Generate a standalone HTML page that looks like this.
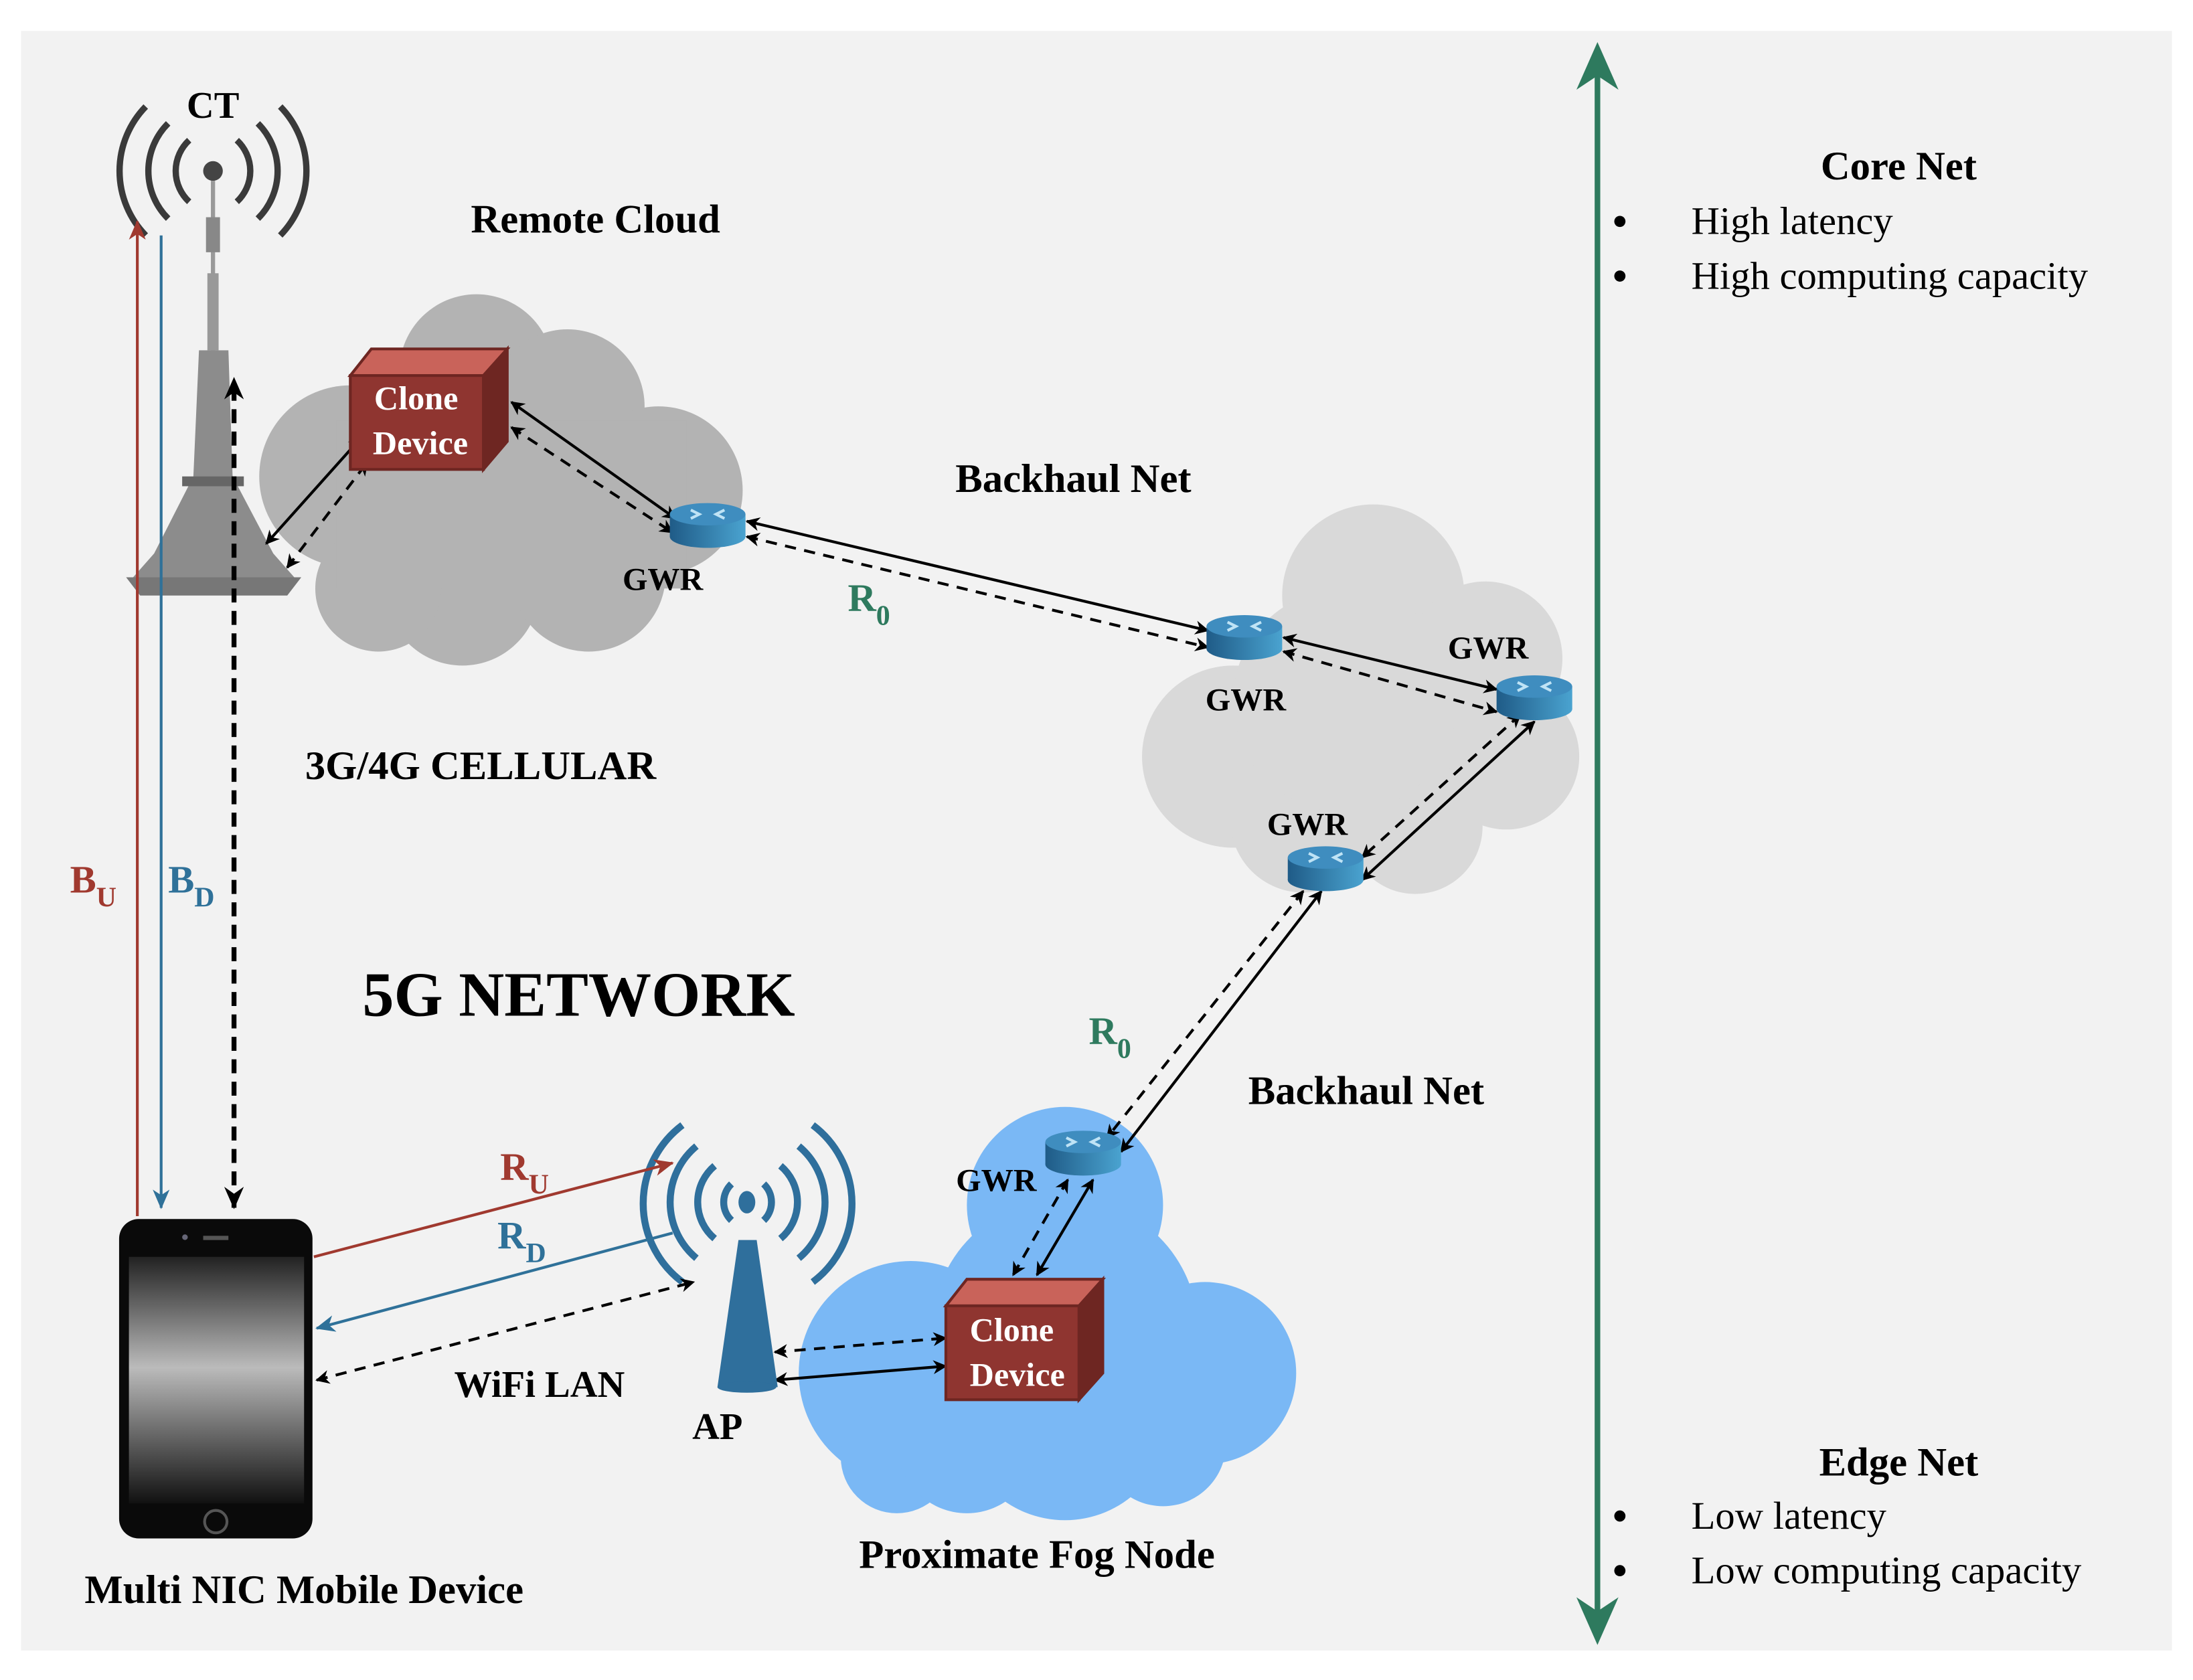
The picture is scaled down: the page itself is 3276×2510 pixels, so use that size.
<!DOCTYPE html>
<html><head><meta charset="utf-8"><style>
html,body{margin:0;padding:0;background:#fff;}
svg{display:block;font-family:"Liberation Serif","Times New Roman",serif;}
text{font-family:"Liberation Serif","Times New Roman",serif;}
</style></head><body>
<svg width="3276" height="2510" viewBox="0 0 1565 1199" xmlns="http://www.w3.org/2000/svg" font-family="Liberation Serif, serif">
<defs>
<marker id="ab" markerWidth="10" markerHeight="10" refX="9" refY="5" orient="auto-start-reverse" markerUnits="userSpaceOnUse"><path d="M0,0 L10,5 L0,10 L3,5 z" fill="#000"/></marker>
<marker id="ar" markerWidth="14" markerHeight="12" refX="13" refY="6" orient="auto" markerUnits="userSpaceOnUse"><path d="M0,0 L14,6 L0,12 L4,6 z" fill="#a0392f"/></marker>
<marker id="abl" markerWidth="14" markerHeight="12" refX="13" refY="6" orient="auto" markerUnits="userSpaceOnUse"><path d="M0,0 L14,6 L0,12 L4,6 z" fill="#2f7199"/></marker>
<marker id="abk" markerWidth="16" markerHeight="14" refX="15" refY="7" orient="auto-start-reverse" markerUnits="userSpaceOnUse"><path d="M0,0 L16,7 L0,14 L5,7 z" fill="#000"/></marker>
<linearGradient id="scr" x1="0" y1="0" x2="0" y2="1"><stop offset="0" stop-color="#222"/><stop offset="0.45" stop-color="#bbb"/><stop offset="1" stop-color="#111"/></linearGradient>
<linearGradient id="rt" x1="0" y1="0" x2="1" y2="0"><stop offset="0" stop-color="#1f5b87"/><stop offset="1" stop-color="#4aa3d0"/></linearGradient>
<g id="router"><rect x="-27" y="-8" width="54" height="16" fill="url(#rt)"/><ellipse cx="0" cy="8" rx="27" ry="8" fill="url(#rt)"/><ellipse cx="0" cy="-8" rx="27" ry="8" fill="#3f8dbf"/><path d="M-12,-11 l6,3 -6,3 M12,-11 l-6,3 6,3" stroke="#bfe3f5" stroke-width="2" fill="none"/></g>
</defs>
<rect x="0" y="0" width="1565" height="1199" fill="#fff"/>
<rect x="15" y="22" width="1535" height="1156" fill="#f2f2f2"/>

<!-- clouds -->
<g fill="#b3b3b3">
<circle cx="250" cy="340" r="65"/><circle cx="340" cy="265" r="55"/><circle cx="405" cy="290" r="55"/><circle cx="470" cy="350" r="60"/><circle cx="330" cy="420" r="55"/><circle cx="420" cy="410" r="55"/><circle cx="270" cy="420" r="45"/><rect x="240" y="300" width="250" height="120"/>
</g>
<g fill="#d9d9d9">
<circle cx="880" cy="540" r="65"/><circle cx="980" cy="425" r="65"/><circle cx="1060" cy="470" r="55"/><circle cx="1075" cy="540" r="52"/><circle cx="930" cy="585" r="52"/><circle cx="1010" cy="590" r="48"/><circle cx="960" cy="500" r="80"/>
</g>
<g fill="#7ab8f5">
<circle cx="760" cy="860" r="70"/><circle cx="650" cy="980" r="80"/><circle cx="860" cy="980" r="65"/><circle cx="760" cy="1010" r="75"/><circle cx="640" cy="1040" r="40"/><circle cx="760" cy="950" r="95"/><circle cx="690" cy="1030" r="50"/><circle cx="830" cy="1030" r="45"/>
</g>

<!-- green axis -->
<line x1="1140" y1="40" x2="1140" y2="1165" stroke="#2e7a5e" stroke-width="4"/>
<path d="M1125,64 L1140,30 L1155,64 L1140,54z" fill="#2e7a5e"/>
<path d="M1125,1140 L1140,1174 L1155,1140 L1140,1150z" fill="#2e7a5e"/>

<g font-size="28" fill="#000">
<text x="1355" y="128" text-anchor="middle" font-weight="bold" font-size="29">Core Net</text>
<circle cx="1156" cy="158" r="4"/><text x="1207" y="167">High latency</text>
<circle cx="1156" cy="197" r="4"/><text x="1207" y="206">High computing capacity</text>
<text x="1355" y="1053" text-anchor="middle" font-weight="bold" font-size="29">Edge Net</text>
<circle cx="1156" cy="1082" r="4"/><text x="1207" y="1091">Low latency</text>
<circle cx="1156" cy="1121" r="4"/><text x="1207" y="1130">Low computing capacity</text>
</g>

<!-- tower -->
<g fill="none" stroke="#3a3a3a" stroke-width="4.5">
<path d="M135,100 A30,30 0 0 0 135,144"/><path d="M169,100 A30,30 0 0 1 169,144"/>
<path d="M120,88 A48,48 0 0 0 120,156"/><path d="M184,88 A48,48 0 0 1 184,156"/>
<path d="M104,76 A66,66 0 0 0 104,168"/><path d="M200,76 A66,66 0 0 1 200,168"/>
</g>
<circle cx="152" cy="122" r="7" fill="#444"/>
<line x1="152" y1="129" x2="152" y2="250" stroke="#999" stroke-width="3"/>
<rect x="147" y="155" width="10" height="25" fill="#888"/>
<rect x="148" y="195" width="8" height="55" fill="#999"/>
<path d="M142,250 L163,250 L166,340 L195,395 L210,412 L95,412 L110,395 L138,340 Z" fill="#8c8c8c"/>
<path d="M90,412 L215,412 L205,425 L100,425 Z" fill="#777"/>
<rect x="130" y="340" width="44" height="7" fill="#666"/>

<!-- links in remote cloud -->
<line x1="190" y1="388" x2="258" y2="312" stroke="#000" stroke-width="2" marker-end="url(#ab)" marker-start="url(#ab)"/>
<line x1="205" y1="405" x2="262" y2="330" stroke="#000" stroke-width="2" stroke-dasharray="8,6" marker-end="url(#ab)" marker-start="url(#ab)"/>
<line x1="365" y1="287" x2="482" y2="370" stroke="#000" stroke-width="2" marker-end="url(#ab)" marker-start="url(#ab)"/>
<line x1="365" y1="305" x2="480" y2="380" stroke="#000" stroke-width="2" stroke-dasharray="8,6" marker-end="url(#ab)" marker-start="url(#ab)"/>
<!-- backhaul 1 -->
<line x1="533" y1="372" x2="862" y2="450" stroke="#000" stroke-width="2" marker-end="url(#ab)" marker-start="url(#ab)"/>
<line x1="533" y1="383" x2="862" y2="462" stroke="#000" stroke-width="2" stroke-dasharray="8,6" marker-end="url(#ab)" marker-start="url(#ab)"/>
<line x1="916" y1="455" x2="1068" y2="492" stroke="#000" stroke-width="2" marker-end="url(#ab)" marker-start="url(#ab)"/>
<line x1="916" y1="465" x2="1068" y2="508" stroke="#000" stroke-width="2" stroke-dasharray="8,6" marker-end="url(#ab)" marker-start="url(#ab)"/>
<line x1="1095" y1="515" x2="972" y2="628" stroke="#000" stroke-width="2" marker-end="url(#ab)" marker-start="url(#ab)"/>
<line x1="1085" y1="510" x2="972" y2="612" stroke="#000" stroke-width="2" stroke-dasharray="8,6" marker-end="url(#ab)" marker-start="url(#ab)"/>
<!-- backhaul 2 -->
<line x1="930" y1="636" x2="790" y2="812" stroke="#000" stroke-width="2" stroke-dasharray="8,6" marker-end="url(#ab)" marker-start="url(#ab)"/>
<line x1="943" y1="636" x2="800" y2="822" stroke="#000" stroke-width="2" marker-end="url(#ab)" marker-start="url(#ab)"/>
<line x1="762" y1="842" x2="723" y2="910" stroke="#000" stroke-width="2" stroke-dasharray="8,6" marker-end="url(#ab)" marker-start="url(#ab)"/>
<line x1="780" y1="842" x2="740" y2="910" stroke="#000" stroke-width="2" marker-end="url(#ab)" marker-start="url(#ab)"/>
<line x1="553" y1="965" x2="675" y2="955" stroke="#000" stroke-width="2" stroke-dasharray="8,6" marker-end="url(#ab)" marker-start="url(#ab)"/>
<line x1="553" y1="985" x2="675" y2="975" stroke="#000" stroke-width="2" marker-end="url(#ab)" marker-start="url(#ab)"/>

<!-- routers -->
<use href="#router" x="505" y="375"/>
<use href="#router" x="888" y="455"/>
<use href="#router" x="1095" y="498"/>
<use href="#router" x="946" y="620"/>
<use href="#router" x="773" y="823"/>

<!-- clone devices -->
<g>
<path d="M250,268 L265,249 L362,249 L345,268Z" fill="#c9635a" stroke="#6e2622" stroke-width="2"/>
<path d="M345,268 L362,249 L362,315 L345,335Z" fill="#6e2622" stroke="#6e2622" stroke-width="2"/>
<rect x="250" y="268" width="95" height="67" fill="#8f3530" stroke="#6e2622" stroke-width="2"/>
<text x="297" y="292" text-anchor="middle" font-size="24" font-weight="bold" fill="#fff">Clone</text>
<text x="300" y="324" text-anchor="middle" font-size="24" font-weight="bold" fill="#fff">Device</text>
</g>
<g>
<path d="M675,932 L690,913 L787,913 L770,932Z" fill="#c9635a" stroke="#6e2622" stroke-width="2"/>
<path d="M770,932 L787,913 L787,980 L770,999Z" fill="#6e2622" stroke="#6e2622" stroke-width="2"/>
<rect x="675" y="932" width="95" height="67" fill="#8f3530" stroke="#6e2622" stroke-width="2"/>
<text x="722" y="957" text-anchor="middle" font-size="24" font-weight="bold" fill="#fff">Clone</text>
<text x="726" y="989" text-anchor="middle" font-size="24" font-weight="bold" fill="#fff">Device</text>
</g>

<!-- BU BD and dashed vertical -->
<line x1="98" y1="868" x2="98" y2="158" stroke="#a0392f" stroke-width="2" marker-end="url(#ar)"/>
<line x1="115" y1="168" x2="115" y2="862" stroke="#2f7199" stroke-width="2" marker-end="url(#abl)"/>
<line x1="167" y1="862" x2="167" y2="270" stroke="#000" stroke-width="3.5" stroke-dasharray="10,6" marker-end="url(#abk)" marker-start="url(#abk)"/>

<!-- phone -->
<rect x="85" y="870" width="138" height="228" rx="14" fill="#0a0a0a"/>
<rect x="92" y="897" width="125" height="176" fill="url(#scr)"/>
<circle cx="154" cy="1086" r="8" fill="none" stroke="#555" stroke-width="2"/>
<rect x="145" y="882" width="18" height="3" fill="#555"/><circle cx="132" cy="883" r="2" fill="#667"/>

<!-- AP -->
<g fill="none" stroke="#2f6f9c" stroke-width="5">
<path d="M522,845 A18,18 0 0 0 522,871"/><path d="M545,845 A18,18 0 0 1 545,871"/>
<path d="M510,832 A34,34 0 0 0 510,884"/><path d="M557,832 A34,34 0 0 1 557,884"/>
<path d="M497,818 A52,52 0 0 0 497,898"/><path d="M570,818 A52,52 0 0 1 570,898"/>
<path d="M487,803 A70,70 0 0 0 487,915"/><path d="M580,803 A70,70 0 0 1 580,915"/>
</g>
<ellipse cx="533" cy="858" rx="6" ry="8" fill="#2f6f9c"/>
<path d="M527,885 L540,885 L555,990 L512,990Z" fill="#2f6f9c"/>
<ellipse cx="533" cy="990" rx="21" ry="4" fill="#2f6f9c"/>

<!-- wifi links -->
<line x1="224" y1="897" x2="480" y2="830" stroke="#a0392f" stroke-width="2" marker-end="url(#ar)"/>
<line x1="480" y1="880" x2="226" y2="948" stroke="#2f7199" stroke-width="2" marker-end="url(#abl)"/>
<line x1="226" y1="985" x2="495" y2="915" stroke="#000" stroke-width="2" stroke-dasharray="8,6" marker-end="url(#ab)" marker-start="url(#ab)"/>

<!-- labels -->
<g font-weight="bold" fill="#000">
<text x="152" y="84" text-anchor="middle" font-size="27">CT</text>
<text x="425" y="166" text-anchor="middle" font-size="29">Remote Cloud</text>
<text x="766" y="351" text-anchor="middle" font-size="29">Backhaul Net</text>
<text x="473" y="421" text-anchor="middle" font-size="23">GWR</text>
<text x="889" y="507" text-anchor="middle" font-size="23">GWR</text>
<text x="1062" y="470" text-anchor="middle" font-size="23">GWR</text>
<text x="933" y="596" text-anchor="middle" font-size="23">GWR</text>
<text x="711" y="850" text-anchor="middle" font-size="23">GWR</text>
<text x="343" y="556" text-anchor="middle" font-size="29">3G/4G CELLULAR</text>
<text x="413" y="725" text-anchor="middle" font-size="45">5G NETWORK</text>
<text x="975" y="788" text-anchor="middle" font-size="29">Backhaul Net</text>
<text x="385" y="997" text-anchor="middle" font-size="27">WiFi LAN</text>
<text x="512" y="1027" text-anchor="middle" font-size="27">AP</text>
<text x="740" y="1119" text-anchor="middle" font-size="29">Proximate Fog Node</text>
<text x="217" y="1144" text-anchor="middle" font-size="29">Multi NIC Mobile Device</text>
<text x="605" y="436" font-size="28" fill="#2e7a5e">R<tspan font-size="20" dy="10">0</tspan></text>
<text x="777" y="745" font-size="28" fill="#2e7a5e">R<tspan font-size="20" dy="10">0</tspan></text>
<text x="50" y="637" font-size="28" fill="#a0392f">B<tspan font-size="20" dy="10">U</tspan></text>
<text x="120" y="637" font-size="28" fill="#2f7199">B<tspan font-size="20" dy="10">D</tspan></text>
<text x="357" y="842" font-size="28" fill="#a0392f">R<tspan font-size="20" dy="10">U</tspan></text>
<text x="355" y="891" font-size="28" fill="#2f7199">R<tspan font-size="20" dy="10">D</tspan></text>
</g>
</svg>
</body></html>
